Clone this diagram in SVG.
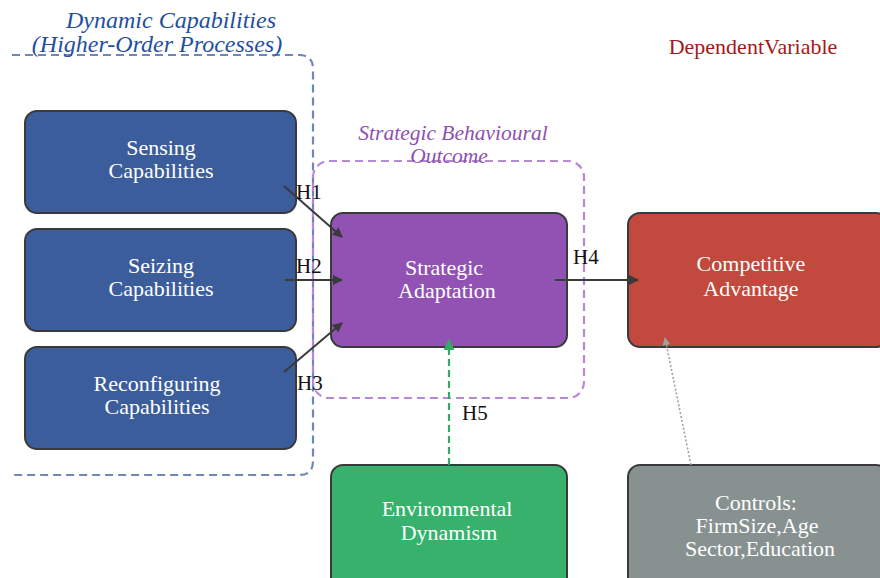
<svg xmlns="http://www.w3.org/2000/svg" width="880" height="578" viewBox="0 0 880 578">
  <style>
    .node text { font-family: "Liberation Serif", "Times New Roman", serif; font-size: 22px; fill: #ffffff; text-anchor: middle; }
    .box { stroke: #3a3a3a; stroke-width: 2; }
    .title { font-family: "Liberation Serif", "Times New Roman", serif; font-style: italic; text-anchor: middle; }
    .lbl { font-family: "Liberation Serif", "Times New Roman", serif; font-size: 21px; fill: #111111; }
    .edge { stroke: #3a3a3a; stroke-width: 2; fill: none; }
  </style>
  <defs>
    <marker id="arr" viewBox="0 0 10 10" refX="9" refY="5" markerWidth="5" markerHeight="5" orient="auto">
      <path d="M0,0 L10,5 L0,10 Z" fill="#3a3a3a"/>
    </marker>
    <marker id="arrG" viewBox="0 0 10 10" refX="9" refY="5" markerWidth="5" markerHeight="5" orient="auto">
      <path d="M0,0 L10,5 L0,10 Z" fill="#2fae63"/>
    </marker>
    <marker id="arrC" viewBox="0 0 10 10" refX="9" refY="5" markerWidth="5" markerHeight="5" orient="auto">
      <path d="M0,0 L10,5 L0,10 Z" fill="#a0a0a0"/>
    </marker>
  </defs>

  <rect width="880" height="578" fill="#ffffff"/>

  <!-- Group frames -->
  <g id="frame-dynamic">
    <path d="M12,55 H299 Q313,55 313,69 V461 Q313,475 299,475 H14" fill="none" stroke="#6f86b8" stroke-width="2.2" stroke-dasharray="8,5"/>
    <text class="title" x="171" y="28" font-size="24" fill="#1f4fa0">Dynamic Capabilities</text>
    <text class="title" x="157" y="52" font-size="24" fill="#1f4fa0">(Higher-Order Processes)</text>
  </g>
  <g id="frame-outcome">
    <rect x="313" y="161" width="271" height="237" rx="16" fill="none" stroke="#b888d4" stroke-width="2.2" stroke-dasharray="8,5"/>
    <text class="title" x="453" y="140" font-size="21.5" fill="#8e50b0">Strategic Behavioural</text>
    <text class="title" x="449" y="163" font-size="21.5" fill="#8e50b0">Outcome</text>
  </g>
  <text x="753" y="54" font-family="Liberation Serif, Times New Roman, serif" font-size="22" fill="#a31919" text-anchor="middle">DependentVariable</text>

  <!-- Nodes -->
  <g id="sensing" class="node">
    <rect class="box" x="25" y="111" width="271" height="102" rx="12" fill="#3c5d9b"/>
    <text x="161" y="155">Sensing</text>
    <text x="161" y="178">Capabilities</text>
  </g>
  <g id="seizing" class="node">
    <rect class="box" x="25" y="229" width="271" height="102" rx="12" fill="#3c5d9b"/>
    <text x="161" y="273">Seizing</text>
    <text x="161" y="296">Capabilities</text>
  </g>
  <g id="reconfiguring" class="node">
    <rect class="box" x="25" y="347" width="271" height="102" rx="12" fill="#3c5d9b"/>
    <text x="157" y="391">Reconfiguring</text>
    <text x="157" y="414">Capabilities</text>
  </g>
  <g id="adaptation" class="node">
    <rect class="box" x="331" y="213" width="236" height="134" rx="12" fill="#9252b3"/>
    <text x="444" y="275">Strategic</text>
    <text x="447" y="298">Adaptation</text>
  </g>
  <g id="advantage" class="node">
    <rect class="box" x="628" y="213" width="260" height="134" rx="12" fill="#c1493d"/>
    <text x="751" y="271">Competitive</text>
    <text x="751" y="296">Advantage</text>
  </g>
  <g id="dynamism" class="node">
    <rect class="box" x="331" y="465" width="236" height="125" rx="12" fill="#37b16b"/>
    <text x="447" y="516">Environmental</text>
    <text x="449" y="540">Dynamism</text>
  </g>
  <g id="controls" class="node">
    <rect class="box" x="628" y="465" width="260" height="125" rx="12" fill="#879190"/>
    <text x="756" y="510">Controls:</text>
    <text x="757" y="533">FirmSize,Age</text>
    <text x="760" y="556">Sector,Education</text>
  </g>

  <!-- Connectors -->
  <g id="connectors">
    <line class="edge" x1="284" y1="186" x2="342" y2="237" marker-end="url(#arr)"/>
    <line class="edge" x1="285" y1="280" x2="342" y2="280" marker-end="url(#arr)"/>
    <line class="edge" x1="284" y1="372" x2="342" y2="323" marker-end="url(#arr)"/>
    <line class="edge" x1="555" y1="280" x2="638" y2="280" marker-end="url(#arr)"/>
    <line x1="449" y1="465" x2="449" y2="340" stroke="#2fae63" stroke-width="2.2" stroke-dasharray="7,4" marker-end="url(#arrG)"/>
    <line x1="691" y1="465" x2="665" y2="338" stroke="#a0a0a0" stroke-width="1.6" stroke-dasharray="2,2" marker-end="url(#arrC)"/>
    <text class="lbl" x="296" y="199">H1</text>
    <text class="lbl" x="296" y="273">H2</text>
    <text class="lbl" x="297" y="390">H3</text>
    <text class="lbl" x="573" y="264">H4</text>
    <text class="lbl" x="462" y="420" fill="#2fae63">H5</text>
  </g>
</svg>
